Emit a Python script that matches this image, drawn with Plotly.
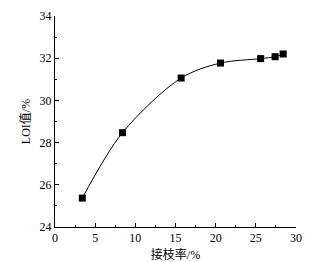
import plotly.graph_objects as go

graft_rate = [3.4, 8.4, 15.7, 20.6, 25.6, 27.4, 28.4]
loi_value = [25.37, 28.47, 31.06, 31.77, 31.98, 32.07, 32.2]
x_ticks = [0, 5, 10, 15, 20, 25, 30]
y_ticks = [24, 26, 28, 30, 32, 34]

font_fam = "Liberation Serif, Noto Sans CJK SC"

fig = go.Figure()
fig.add_trace(go.Scatter(
    x=graft_rate, y=loi_value, mode="lines",
    line=dict(color="black", width=1, shape="spline", smoothing=0.9),
    hoverinfo="skip", showlegend=False))
fig.add_trace(go.Scatter(
    x=graft_rate, y=loi_value, mode="markers",
    marker=dict(symbol="square", size=7, color="black"),
    showlegend=False))

axis_common = dict(
    showline=True, linecolor="black", linewidth=1, mirror=False,
    ticks="inside", ticklen=4, tickcolor="black", tickwidth=1,
    showgrid=False, zeroline=False, automargin=False,
    tickfont=dict(family=font_fam, size=12, color="black"),
)

fig.update_xaxes(range=[0, 30], tickvals=x_ticks, ticklabelstandoff=0,
                 minor=dict(ticks="inside", ticklen=2, dtick=2.5, tick0=0, tickcolor="black"),
                 title=dict(text="接枝率/%", font=dict(family=font_fam, size=12, color="black"), standoff=10),
                 **axis_common)
fig.update_yaxes(range=[24, 34], tickvals=y_ticks,
                 minor=dict(ticks="inside", ticklen=2, dtick=1, tick0=24, tickcolor="black"),
                 title=dict(text="LOI值/%", font=dict(family=font_fam, size=12, color="black"), standoff=6),
                 **axis_common)

fig.update_layout(
    width=325, height=262,
    margin=dict(l=55, r=29, t=16, b=35),
    paper_bgcolor="white", plot_bgcolor="white",
)

fig.write_html("out.html")
